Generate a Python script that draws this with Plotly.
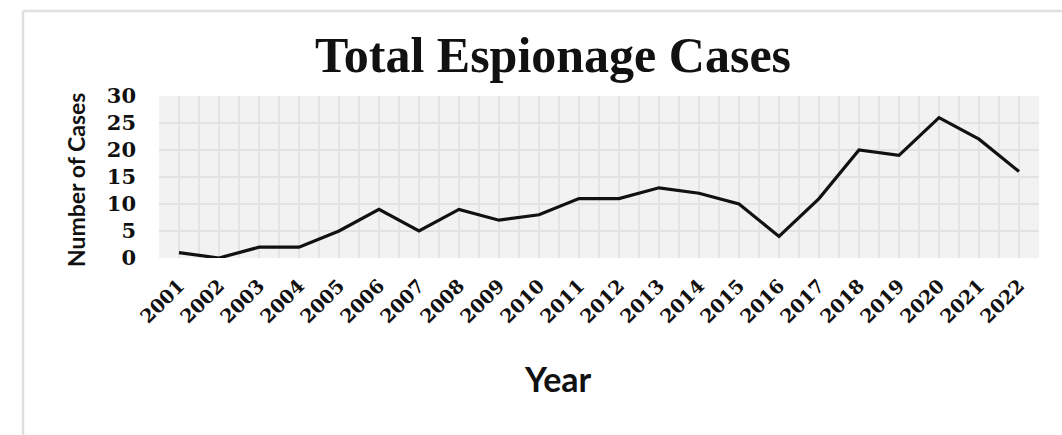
import plotly.graph_objects as go

years = list(range(2001, 2023))
cases = [1, 0, 2, 2, 5, 9, 5, 9, 7, 8, 11, 11, 13, 12, 10, 4, 11, 20, 19, 26, 22, 16]
y_ticks = [0, 5, 10, 15, 20, 25, 30]

W, H = 1062, 435
L, R, T, B = 159, 23, 96, 177
pw, ph = W - L - R, H - T - B

def px(x):
    return (x - L) / pw

def py(y):
    return (H - B - y) / ph

fig = go.Figure()
fig.add_trace(go.Scatter(
    x=years, y=cases, mode="lines",
    line=dict(color="#111111", width=3.2),
    cliponaxis=False, showlegend=False,
))

fig.update_layout(
    width=W, height=H,
    margin=dict(l=L, r=R, t=T, b=B),
    paper_bgcolor="white",
    plot_bgcolor="#f2f2f2",
    xaxis=dict(
        range=[2000.5, 2022.5],
        tickvals=years,
        ticktext=[str(y) for y in years],
        tickangle=-45,
        tickfont=dict(family="DejaVu Serif", size=19, color="#111111", weight="bold"),
        ticklabelstandoff=12,
        showgrid=True, gridcolor="#e4e4e4", gridwidth=1.5,
        minor=dict(tickvals=[y + 0.5 for y in years[:-1]], showgrid=True,
                   gridcolor="#e4e4e4", gridwidth=1.5),
        zeroline=False, showline=False, ticks="",
    ),
    yaxis=dict(
        range=[0, 30],
        tickvals=y_ticks,
        tickfont=dict(family="DejaVu Serif", size=21, color="#111111", weight="bold"),
        showgrid=True, gridcolor="#e2e2e2", gridwidth=1.5,
        zeroline=False, showline=False, ticks="",
        ticklabelstandoff=22,
    ),
    annotations=[
        dict(text="Total Espionage Cases", xref="paper", yref="paper",
             x=px(553), y=py(55), xanchor="center", yanchor="middle", showarrow=False,
             font=dict(family="Liberation Serif", size=50, color="#111111", weight="bold")),
        dict(text="Year", xref="paper", yref="paper",
             x=px(558), y=py(378), xanchor="center", yanchor="middle", showarrow=False,
             font=dict(family="Lato", size=34, color="#111111", weight="bold")),
        dict(text="Number of Cases", xref="paper", yref="paper", textangle=-90,
             x=px(76), y=py(180), xanchor="center", yanchor="middle", showarrow=False,
             font=dict(family="Lato", size=23, color="#111111", weight="bold")),
    ],
    shapes=[
        dict(type="line", xref="paper", yref="paper", x0=px(23), x1=px(1062),
             y0=py(11), y1=py(11), line=dict(color="#e0e0e0", width=2.5)),
        dict(type="line", xref="paper", yref="paper", x0=px(23), x1=px(23),
             y0=py(11), y1=py(436), line=dict(color="#e0e0e0", width=2.5)),
    ],
)

fig.write_html("out.html")
